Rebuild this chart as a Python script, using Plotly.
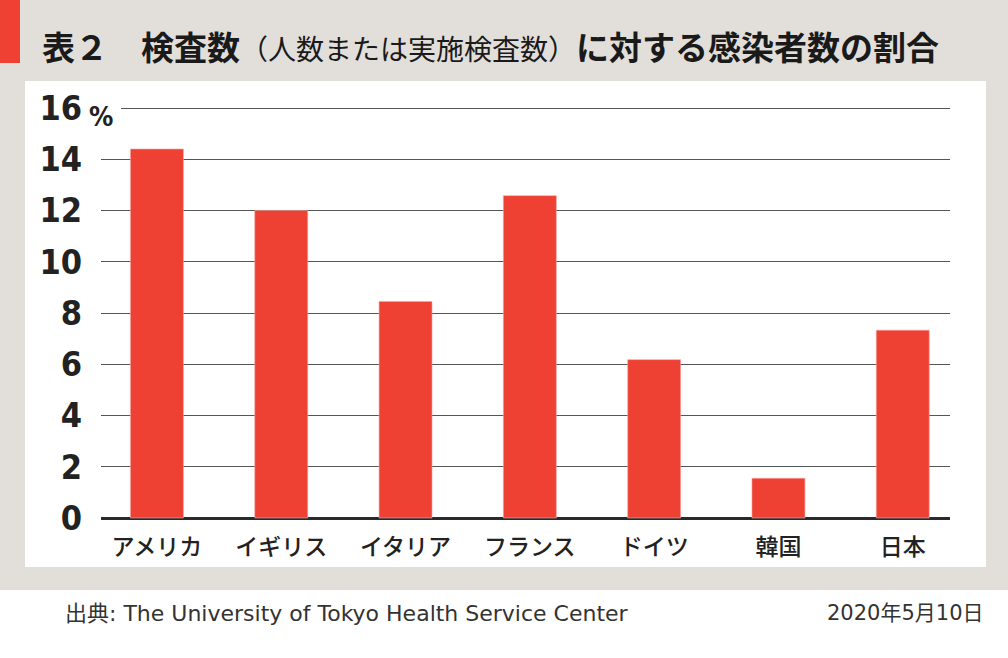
import plotly.graph_objects as go

categories = ["アメリカ", "イギリス", "イタリア", "フランス", "ドイツ", "韓国", "日本"]
ratio_pct = [14.4, 12.0, 8.45, 12.58, 6.18, 1.55, 7.33]
y_ticks = [0, 2, 4, 6, 8, 10, 12, 14, 16]
y_tick_labels = ["0", "2", "4", "6", "8", "10", "12", "14", "16"]

title_bold_1 = "表２　検査数"
title_paren = "（人数または実施検査数）"
title_bold_2 = "に対する感染者数の割合"
source_text = "出典: The University of Tokyo Health Service Center"
date_text = "2020年5月10日"

W, H = 1008, 658
L, R, T, B = 101, 950, 100, 526  # plot area in pixels

def px(x):
    return (x - L) / (R - L)

def py(y):
    return (B - y) / (B - T)

RED = "#ef4034"
GRAY = "#e2dfda"
JP = "Noto Sans CJK JP, Noto Sans, sans-serif"
SRC = "DejaVu Sans, Noto Sans CJK JP, sans-serif"
NARROW = "Liberation Sans Narrow, DejaVu Sans Condensed, Arial Narrow, Roboto, sans-serif"

fig = go.Figure()
fig.add_trace(go.Bar(
    x=categories, y=ratio_pct,
    marker=dict(color=RED, line=dict(width=0.6, color="#f6a59e")),
    width=0.426,
    hoverinfo="x+y",
))

shapes = [
    dict(type="rect", xref="paper", yref="paper", x0=px(0), x1=px(W), y0=py(590), y1=py(0),
         fillcolor=GRAY, line=dict(width=0), layer="below"),
    dict(type="rect", xref="paper", yref="paper", x0=px(0), x1=px(20), y0=py(63), y1=py(0),
         fillcolor=RED, line=dict(width=0), layer="below"),
    dict(type="rect", xref="paper", yref="paper", x0=px(25), x1=px(986), y0=py(567), y1=py(81),
         fillcolor="white", line=dict(width=0), layer="below"),
    # hide start of top gridline where the % sign sits
    dict(type="rect", xref="paper", yref="paper", x0=px(99), x1=px(121), y0=py(112), y1=py(104),
         fillcolor="white", line=dict(width=0), layer="above"),
]

annotations = [
    dict(text=f"<b>{title_bold_1}</b><span style='font-size:28px'>{title_paren}</span><b>{title_bold_2}</b>",
         xref="paper", yref="paper", x=px(40), y=py(46), xanchor="left", yanchor="middle",
         showarrow=False, font=dict(family=JP, size=33, color="#1a1a1a")),
    dict(text="<b>%</b>", xref="paper", yref="paper", x=px(101), y=py(116),
         xanchor="center", yanchor="middle", showarrow=False,
         font=dict(family=NARROW, size=27, color="#222")),
    dict(text=source_text, xref="paper", yref="paper", x=px(63), y=py(613),
         xanchor="left", yanchor="middle", showarrow=False,
         font=dict(family=SRC, size=22, color="#333")),
    dict(text=date_text, xref="paper", yref="paper", x=px(986), y=py(613),
         xanchor="right", yanchor="middle", showarrow=False,
         font=dict(family=SRC, size=21, color="#333")),
]

ppu = 25.625
fig.update_layout(
    width=W, height=H,
    margin=dict(l=L, r=W - R, t=T, b=H - B, pad=0),
    paper_bgcolor="white", plot_bgcolor="rgba(0,0,0,0)",
    showlegend=False,
    shapes=shapes, annotations=annotations,
    bargap=0.5,
    xaxis=dict(
        type="category", range=[-0.45, 6.38], showgrid=False, zeroline=False,
        showline=False, ticks="", ticklabelstandoff=5, fixedrange=True,
        tickfont=dict(family=JP, size=23, color="#222", weight=500),
    ),
    yaxis=dict(
        range=[-(B - 518) / ppu, 16 + (108 - T) / ppu], tickvals=y_ticks, ticktext=y_tick_labels,
        showgrid=True, gridcolor="#555", gridwidth=1,
        zeroline=True, zerolinecolor="#2a2a2a", zerolinewidth=2.5,
        showline=False, ticks="", ticklabelstandoff=18, fixedrange=True,
        tickfont=dict(family=NARROW, size=34, color="#222", weight="bold"),
    ),
)

fig.write_html("out.html", config={"displayModeBar": False},
               post_script="document.body.style.margin='0';document.body.style.padding='0';")
